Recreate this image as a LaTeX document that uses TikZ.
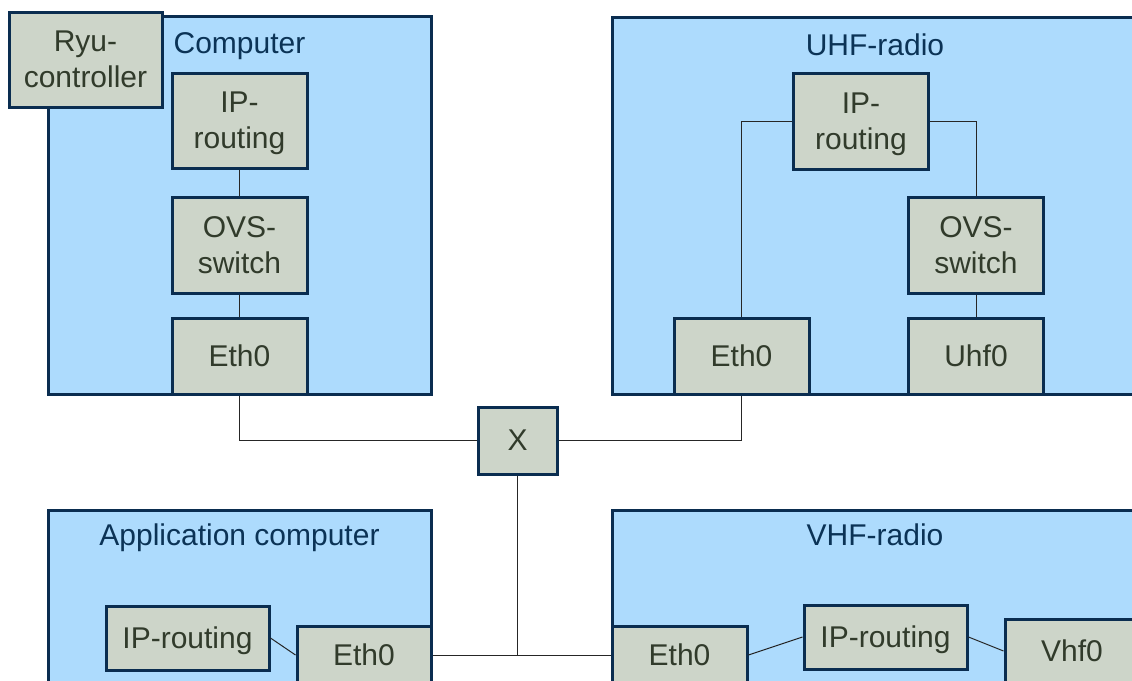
\documentclass[tikz,border=0pt]{standalone}
\usepackage{fontspec}
\setmainfont{Liberation Sans}
\definecolor{bluefill}{HTML}{ADDBFD}
\definecolor{navy}{HTML}{0A2D50}
\definecolor{grayfill}{HTML}{CDD5C9}
\definecolor{nodetext}{HTML}{313B2B}
\definecolor{titletext}{HTML}{0B3356}
\begin{document}
\begin{tikzpicture}[x=1pt,y=-1pt,
  bluebox/.style={draw=navy, line width=3pt, fill=bluefill, inner sep=0pt},
  gbox/.style={draw=navy, line width=3pt, fill=grayfill, inner sep=0pt, align=center,
    text=nodetext, font=\fontsize{30}{36}\selectfont, text depth=0pt},
  boxtitle/.style={text=titletext, font=\fontsize{30}{36}\selectfont, anchor=base, inner sep=0pt},
  wire/.style={draw=black!85, line width=1pt}]
\useasboundingbox (0,0) rectangle (1132,680);
\clip (0,0) rectangle (1132,680);
% container boxes
\node[bluebox, minimum width=383pt, minimum height=378pt] (comp) at (239.5,205) {};
\node[bluebox, minimum width=526pt, minimum height=377pt] (uhf) at (875.5,205.5) {};
\node[bluebox, minimum width=383pt, minimum height=240pt] (app) at (239.5,630) {};
\node[bluebox, minimum width=526pt, minimum height=240pt] (vhf) at (875.5,630) {};
% titles
\node[boxtitle] (comptitle) at (239.5,53) {Computer};
\node[boxtitle] (uhftitle) at (875,55) {UHF-radio};
\node[boxtitle] (apptitle) at (239.5,545) {Application computer};
\node[boxtitle] (vhftitle) at (875,545) {VHF-radio};
% inner nodes
\node[gbox, minimum width=153pt, minimum height=95pt] (ryu) at (85.5,59.5) {Ryu-\\controller};
\node[gbox, minimum width=135pt, minimum height=95pt] (cip) at (239.5,120.5) {IP-\\routing};
\node[gbox, minimum width=135pt, minimum height=96pt] (covs) at (239.5,245) {OVS-\\switch};
\node[gbox, minimum width=135pt, minimum height=76pt] (ceth) at (239.5,356) {Eth0};
\node[gbox, minimum width=135pt, minimum height=96pt] (uip) at (861,121) {IP-\\routing};
\node[gbox, minimum width=135pt, minimum height=96pt] (uovs) at (976,245) {OVS-\\switch};
\node[gbox, minimum width=135pt, minimum height=76pt] (ueth) at (741.5,356) {Eth0};
\node[gbox, minimum width=135pt, minimum height=76pt] (uuhf) at (976,356) {Uhf0};
\node[gbox, minimum width=79pt, minimum height=67pt] (x) at (517.5,440.5) {X};
\node[gbox, minimum width=163pt, minimum height=64pt] (aip) at (187.5,638) {IP-routing};
\node[gbox, minimum width=134pt, minimum height=58pt] (aeth) at (364,655) {Eth0};
\node[gbox, minimum width=135pt, minimum height=58pt] (veth) at (679.5,655) {Eth0};
\node[gbox, minimum width=163pt, minimum height=64pt] (vip) at (885.5,637) {IP-routing};
\node[gbox, minimum width=134pt, minimum height=64pt] (vvhf) at (1072,651) {Vhf0};
% connectors
\draw[wire] (cip) -- (covs);
\draw[wire] (covs) -- (ceth);
\draw[wire] (uip.west) -| (ueth.north);
\draw[wire] (uip.east) -| (uovs.north);
\draw[wire] (uovs) -- (uuhf);
\draw[wire] (ceth.south) |- (x.west);
\draw[wire] (x.east) -| (ueth.south);
\coordinate (junc) at (x.south |- aeth.east);
\draw[wire] (aeth.east) -- (veth.west);
\draw[wire] (x.south) -- (junc);
\draw[wire] (aip.east) -- (aeth.west);
\draw[wire] (veth.east) -- (vip.west);
\draw[wire] (vip.east) -- (vvhf.west);
\end{tikzpicture}
\end{document}
